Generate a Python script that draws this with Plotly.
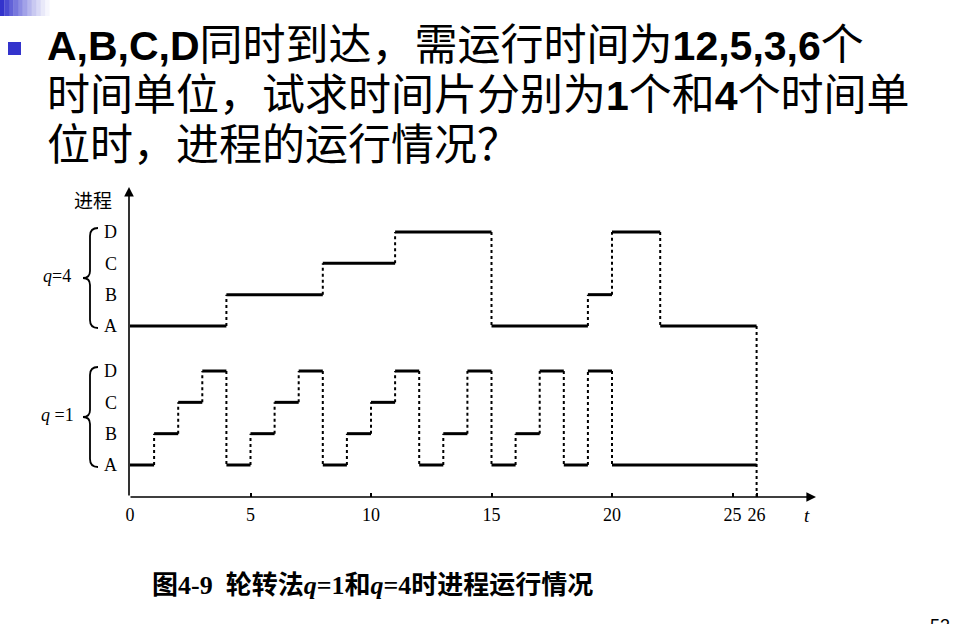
import plotly.graph_objects as go

# ---------------- data ----------------
processes = ["A", "B", "C", "D"]
burst_times = [12, 5, 3, 6]

# round robin, q = 1 : process run in each slice and its length
q1_procs = ["A", "B", "C", "D", "A", "B", "C", "D", "A", "B", "C", "D",
            "A", "B", "D", "A", "B", "D", "A", "D", "A"]
q1_durs = [1, 1, 1, 1, 1, 1, 1, 1, 1, 1, 1, 1, 1, 1, 1, 1, 1, 1, 1, 1, 6]

# round robin, q = 4
q4_procs = ["A", "B", "C", "D", "A", "B", "D", "A"]
q4_durs = [4, 4, 3, 4, 4, 1, 2, 4]

x_tickvals = [0, 5, 10, 15, 20, 25, 26]
x_ticktext = ["0", "5", "10", "15", "20", "25", "26"]

LAT = '<span style="font-size:41px">'
title_lines = [
    f"<b>{LAT}A,B,C,D</span></b>同时到达，需运行时间为<b>{LAT}12,5,3,6</span></b>个",
    f"时间单位，试求时间片分别为<b>{LAT}1</span></b>个和<b>{LAT}4</span></b>个时间单",
    "位时，进程的运行情况？",
]
caption = "<b>图4-9  轮转法<i>q</i>=1和<i>q</i>=4时进程运行情况</b>"

# ---------------- layout geometry ----------------
W, H = 960, 624
ML, MR, MT, MB = 129, 130, 180, 127
PW, PH = W - ML - MR, H - MT - MB
PX_PER_T = 24.1
X0_PX = 130
X_RANGE = [(ML - X0_PX) / PX_PER_T, (ML + PW - X0_PX) / PX_PER_T]
STEP = 31.33
Y1_RANGE = [-(497 - 465) / STEP, 3 + (371 - 180) / STEP]
Y2_RANGE = [-(497 - 326) / STEP, 3 + (232 - 180) / STEP]


def px(x):
    return (x - ML) / PW


def py(y):
    return (H - MB - y) / PH


def build(procs, durs):
    hx, hy, vx, vy = [], [], [], []
    t = 0
    prev = None
    for p, d in zip(procs, durs):
        if prev is not None:
            vx += [t, t, None]
            vy += [prev, p, None]
        hx += [t, t + d, None]
        hy += [p, p, None]
        t += d
        prev = p
    return hx, hy, vx, vy, t


fig = go.Figure()

for procs, durs, yax in [(q4_procs, q4_durs, "y2"), (q1_procs, q1_durs, "y")]:
    hx, hy, vx, vy, end_t = build(procs, durs)
    fig.add_trace(go.Scatter(x=vx, y=vy, yaxis=yax, mode="lines",
                             line=dict(color="black", width=2, dash="dot"),
                             hoverinfo="skip", showlegend=False))
    fig.add_trace(go.Scatter(x=hx, y=hy, yaxis=yax, mode="lines",
                             line=dict(color="black", width=3),
                             hoverinfo="skip", showlegend=False))

total_t = sum(q4_durs)
shapes = [
    dict(type="line", xref="x", yref="y2", x0=total_t, x1=total_t,
         y0=Y2_RANGE[0], y1=0, line=dict(color="black", width=2, dash="dot")),
]


def brace(top, bot, xr=98, xm=90, xt=83):
    mid = (top + bot) / 2
    pts = [
        f"M {px(xr)},{py(top)}",
        f"Q {px(xm)},{py(top)} {px(xm)},{py(top + 8)}",
        f"L {px(xm)},{py(mid - 7)}",
        f"Q {px(xm)},{py(mid)} {px(xt)},{py(mid)}",
        f"Q {px(xm)},{py(mid)} {px(xm)},{py(mid + 7)}",
        f"L {px(xm)},{py(bot - 8)}",
        f"Q {px(xm)},{py(bot)} {px(xr)},{py(bot)}",
    ]
    return dict(type="path", xref="paper", yref="paper", path=" ".join(pts),
                line=dict(color="black", width=1.8))


shapes.append(brace(228, 328))
shapes.append(brace(367, 467))

# top-left gradient bar
for i in range(12):
    shapes.append(dict(type="rect", xref="paper", yref="paper",
                       x0=px(i * 4.5), x1=px(i * 4.5 + 4.6), y0=py(16), y1=py(0),
                       fillcolor="#3333cc", opacity=max(0.0, 1 - i / 11) ** 1.3,
                       line=dict(width=0), layer="above"))
# bullet square
shapes.append(dict(type="rect", xref="paper", yref="paper",
                   x0=px(8), x1=px(21), y0=py(55), y1=py(42),
                   fillcolor="#3333cc", line=dict(width=0)))

ann = []
# axes arrows
ann.append(dict(xref="paper", yref="paper", x=px(816), y=py(497), ax=-(816 - 129), ay=0,
                showarrow=True, arrowhead=2, arrowsize=1.2, arrowwidth=1.6,
                arrowcolor="black", text=""))
ann.append(dict(xref="paper", yref="paper", x=px(129), y=py(187), ax=0, ay=497 - 187,
                showarrow=True, arrowhead=2, arrowsize=1.2, arrowwidth=1.6,
                arrowcolor="black", text=""))

serif = "Liberation Serif, Times New Roman, serif"
cjk = "Liberation Serif, Noto Sans CJK SC"


def label(x, y, text, family, size, xanchor="center", yanchor="middle"):
    ann.append(dict(xref="paper", yref="paper", x=px(x), y=py(y), text=text,
                    xanchor=xanchor, yanchor=yanchor, showarrow=False,
                    font=dict(family=family, size=size, color="black")))


label(93, 199, "进程", "Noto Sans CJK SC", 19)
label(807, 515, "<i>t</i>", serif, 19)
label(57, 276, "<i>q</i>=4", serif, 18)
label(57, 415, "<i>q</i> =1", serif, 18)

for i, line in enumerate(title_lines):
    label(45, 45 + 50 * i, line, "Liberation Sans, Noto Sans CJK SC", 43,
          xanchor="left")

label(372, 585, caption, cjk, 26)
label(928, 614, "53", "Liberation Sans", 18, xanchor="left", yanchor="top")

axis_font = dict(family=serif, size=18, color="black")
fig.update_layout(
    width=W, height=H,
    margin=dict(l=ML, r=MR, t=MT, b=MB, pad=0),
    paper_bgcolor="white", plot_bgcolor="white",
    showlegend=False,
    xaxis=dict(range=X_RANGE, tickvals=x_tickvals, ticktext=x_ticktext,
               ticks="inside", ticklen=4, tickwidth=1.5, tickcolor="black",
               showline=False, showgrid=False, zeroline=False,
               tickfont=dict(family=serif, size=18, color="black"),
               ticklabelstandoff=5),
    yaxis=dict(type="category", categoryarray=processes, range=Y1_RANGE,
               showline=False, showgrid=False, zeroline=False, ticks="",
               tickfont=axis_font, ticklabelstandoff=11),
    yaxis2=dict(type="category", categoryarray=processes, range=Y2_RANGE,
                overlaying="y", side="left",
                showline=False, showgrid=False, zeroline=False, ticks="",
                tickfont=axis_font, ticklabelstandoff=11),
    shapes=shapes,
    annotations=ann,
)

fig.write_html("out.html")
